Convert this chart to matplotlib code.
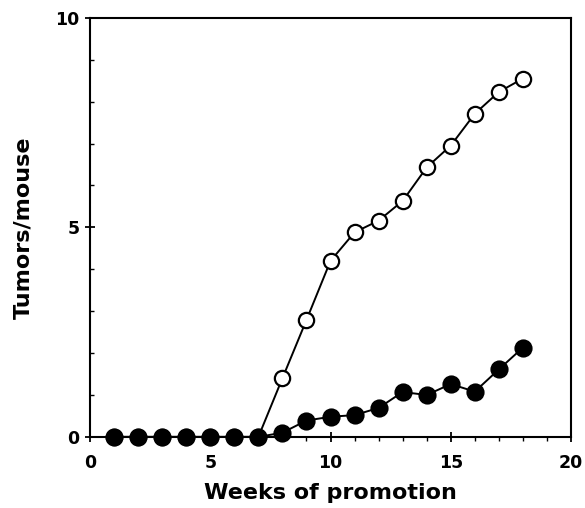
import matplotlib
matplotlib.use("Agg")
import matplotlib.pyplot as plt
from matplotlib.ticker import MultipleLocator

weeks = [1, 2, 3, 4, 5, 6, 7, 8, 9, 10, 11, 12, 13, 14, 15, 16, 17, 18]
open_vals = [0, 0, 0, 0, 0, 0, 0, 1.40, 2.79, 4.20, 4.88, 5.16, 5.63, 6.43, 6.95, 7.71, 8.23, 8.55]
filled_vals = [0, 0, 0, 0, 0, 0, 0, 0.10, 0.39, 0.48, 0.52, 0.69, 1.07, 1.00, 1.26, 1.08, 1.61, 2.13]
x_ticks = [0, 5, 10, 15, 20]
y_ticks = [0, 5, 10]

plt.rcParams['font.family'] = ['DejaVu Sans']
fig = plt.figure(figsize=(5.85, 5.08), dpi=100)
ax = fig.add_axes([0.154, 0.140, 0.822, 0.825])

ax.plot(weeks, open_vals, color='black', lw=1.4, marker='o', ms=11,
        mfc='white', mec='black', mew=1.6, zorder=2, clip_on=False)
ax.plot(weeks, filled_vals, color='black', lw=1.4, marker='o', ms=11.5,
        mfc='black', mec='black', mew=1.6, zorder=3, clip_on=False)

ax.set_xlim(0, 20)
ax.set_ylim(0, 10)
ax.set_xticks(x_ticks)
ax.set_yticks(y_ticks)
ax.xaxis.set_minor_locator(MultipleLocator(1))
ax.yaxis.set_minor_locator(MultipleLocator(1))
ax.tick_params(axis='both', which='major', direction='inout', length=7, width=1.3,
               labelsize=12.5, pad=4)
ax.tick_params(axis='x', which='major', pad=9)
ax.tick_params(axis='y', which='minor', direction='in', length=3, width=1)
ax.tick_params(axis='x', which='minor', direction='out', length=3, width=1)
for lab in ax.get_xticklabels() + ax.get_yticklabels():
    lab.set_fontweight('bold')
for s in ax.spines.values():
    s.set_linewidth(1.5)

ax.set_xlabel('Weeks of promotion', fontsize=16, fontweight='bold', labelpad=8)
ax.set_ylabel('Tumors/mouse', fontsize=16, fontweight='bold', labelpad=16)

fig.savefig('out.png', dpi=100)
